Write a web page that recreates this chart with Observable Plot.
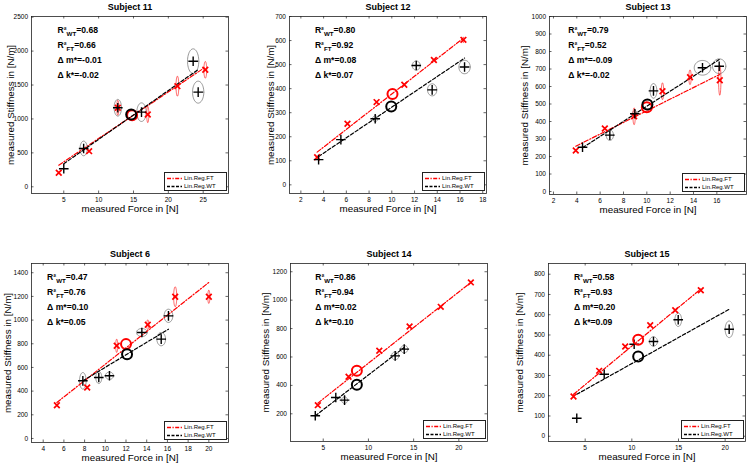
<!DOCTYPE html>
<html><head><meta charset="utf-8">
<script src="https://cdn.jsdelivr.net/npm/d3@7"></script>
<script src="https://cdn.jsdelivr.net/npm/@observablehq/plot@0.6"></script>
<style>
body{margin:0;background:#fff;}
#chart{position:relative;width:749px;height:465px;overflow:hidden;background:#fff;font-family:'Liberation Sans',Arial,Helvetica,sans-serif;}
.legend{position:absolute;box-sizing:border-box;border:0.8px solid #222;background:#fff;width:63px;height:19px;}
.legend .row{position:absolute;left:1.5px;height:7px;display:flex;align-items:center;font-size:6px;line-height:7px;white-space:nowrap;color:#000;}
.legend svg{display:block;margin-right:1.5px;}
</style></head><body><div id="chart"></div>
<script>
// ---- text ----
const titles = ["Subject 11", "Subject 12", "Subject 13", "Subject 6", "Subject 14", "Subject 15"];
const r2WT = ["0.68", "0.80", "0.79", "0.47", "0.86", "0.58"];
const r2FT = ["0.66", "0.92", "0.52", "0.76", "0.94", "0.93"];
const dM = ["-0.01", "0.08", "-0.09", "0.10", "0.02", "0.20"];
const dK = ["-0.02", "0.07", "-0.02", "0.05", "0.10", "0.09"];
const xLabel = "measured Force in [N]";
const yLabel = "measured Stiffness in [N/m]";
const legendLabels = ["Lin.Reg.FT", "Lin.Reg.WT"];

// ---- ticks ----
const xTicks = [
  [5, 10, 15, 20, 25],
  [2, 4, 6, 8, 10, 12, 14, 16, 18],
  [2, 4, 6, 8, 10, 12, 14, 16],
  [4, 6, 8, 10, 12, 14, 16, 18, 20],
  [5, 10, 15, 20],
  [5, 10, 15, 20]
];
const yTicks = [
  [0, 500, 1000, 1500, 2000, 2500],
  [0, 100, 200, 300, 400, 500, 600, 700],
  [0, 100, 200, 300, 400, 500, 600, 700, 800, 900, 1000],
  [0, 200, 400, 600, 800, 1000, 1200, 1400],
  [200, 400, 600, 800, 1000, 1200],
  [0, 100, 200, 300, 400, 500, 600, 700, 800]
];

// ---- data: [force, stiffness, sdForce, sdStiffness] ----
const wt11 = [[5.0,265,0,0],[7.85,565,0.52,108],[12.75,1165,0.53,123],[16.15,1100,0.67,137],[23.56,1851,0.81,182],[24.28,1395,0.81,162]];
const ft11 = [[4.28,206,0,0],[8.64,525,0,0],[12.75,1165,0.15,110],[17.05,1066,0.15,120],[21.3,1483,0.2,147],[25.3,1724,0.2,123]];
const wt12 = [[3.56,105,0,0],[5.52,188,0,0],[8.54,275,0.23,12],[12.15,496,0.35,19],[13.55,395,0.41,25],[16.4,490,0.5,28]];
const ft12 = [[3.43,115,0,0],[6.1,254,0,0],[8.66,344,0,0],[11.1,416,0,0],[13.7,519,0,0],[16.3,603,0.05,12]];
const wt13 = [[4.49,253,0,0],[6.83,322,0.31,30],[8.97,444,0.2,20],[10.57,575,0.29,42],[14.77,707,0.71,42],[16.2,716,0.57,42]];
const ft13 = [[3.91,234,0,0],[6.4,360,0,0],[8.91,430,0.1,48],[11.34,573,0.1,48],[13.7,653,0.1,42],[16.25,636,0.1,86]];
const wt6 = [[7.83,487,0.32,70],[9.37,515,0.29,51],[10.4,530,0.39,31],[13.53,895,0.52,34],[15.4,839,0.42,56],[16.1,1036,0.42,56]];
const ft6 = [[5.32,281,0,0],[8.25,431,0,0],[11.1,783,0.1,56],[14.1,960,0.1,42],[16.75,1197,0.15,84],[20.0,1197,0.1,56]];
const wt14 = [[4.12,186,0,0],[6.39,315,0,0],[7.36,296,0.33,23],[12.96,608,0.4,28],[13.96,655,0.4,26]];
const ft14 = [[4.4,261,0,0],[7.8,461,0,0],[11.2,644,0,0],[14.55,815,0,0],[18.0,953,0,0],[21.33,1125,0,0]];
const wt15 = [[4.1,89,0,0],[7.04,306,0,0],[10.25,454,0,0],[12.32,468,0.43,23],[14.97,575,0.36,33],[20.43,528,0.43,41]];
const ft15 = [[3.75,196,0,0],[6.5,323,0,0],[9.29,443,0,0],[11.97,548,0,0],[14.65,622,0,0],[17.39,721,0,0]];

// mean points [force, stiffness]
const meanWT = [[14.67,1066],[9.95,326],[10.05,497],[12.1,712],[8.72,404],[10.68,394]];
const meanFT = [[14.8,1055],[10.06,378],[10.0,482],[12.0,797],[8.72,503],[10.68,476]];

// regression line end points [[x0,y0],[x1,y1]]
const lineFT = [[[4.28,318],[25.3,1763]],[[3.43,136],[16.3,610]],[[3.91,259],[16.25,669]],[[5.32,304],[20,1318]],[[4.4,275],[21.33,1125]],[[3.75,207],[17.39,727]]];
const lineWT = [[[5.0,339],[24.3,1729]],[[3.56,118],[16.4,527]],[[4.49,250],[16.2,754]],[[7.83,487],[16.1,923]],[[4.12,186],[13.96,667]],[[4.1,207],[20.43,627]]];

const wtData = [wt11, wt12, wt13, wt6, wt14, wt15];
const ftData = [ft11, ft12, ft13, ft6, ft14, ft15];

// ---- layout (frame position in page px, axis domains) ----
const layout = [
  {L:31,  T:16,  W:197, H:177, xd:[0.37,28.63], yd:[-99,2510], ax:26,   yl:-21},
  {L:289, T:16,  W:197, H:177, xd:[1.0,18.33],  yd:[-36,700],  ax:25.4, yl:-19},
  {L:549, T:16,  W:197, H:178, xd:[1.66,18.54], yd:[-17,1000], ax:18.7, yl:-25},
  {L:31,  T:263, W:197, H:179, xd:[2.87,21.9],  yd:[-34,1478], ax:15.6, yl:-23.5},
  {L:290, T:263, W:197, H:178, xd:[1.38,23.17], yd:[5,1258],   ax:24.7, yl:-25},
  {L:548, T:263, W:197, H:178, xd:[1.07,22.18], yd:[-26,853],  ax:25.4, yl:-28.5}
];

const FONT = "'Liberation Sans', Arial, Helvetica, sans-serif";
const RED = "#ff0000";
const chart = document.getElementById("chart");

function ellipses(pts, tag) {
  const out = [];
  pts.forEach((p, i) => {
    if (!p[2] || !p[3]) return;
    for (let k = 0; k <= 48; k++) {
      const a = 2 * Math.PI * k / 48;
      out.push({id: tag + i, x: p[0] + p[2] * Math.cos(a), y: p[1] + p[3] * Math.sin(a)});
    }
  });
  return out;
}

layout.forEach((p, i) => {
  const ML = 31, MR = 3, MT = 16, MB = i < 3 ? 26 : 23;
  const annLines = [`R²|WT|=${r2WT[i]}`, `R²|FT|=${r2FT[i]}`, `Δ m*=${dM[i]}`, `Δ k*=${dK[i]}`];
  const tickLen = 2.5;
  const fmt = d => String(d);
  const marks = [
    Plot.frame({stroke: "#222", strokeWidth: 0.8}),
    Plot.axisX(xTicks[i], {anchor: "bottom", tickSize: 0, tickPadding: 3.5, fontSize: 6.5, label: null, tickFormat: fmt}),
    Plot.axisY(yTicks[i], {anchor: "left", tickSize: 0, tickPadding: 3.5, fontSize: 6.5, label: null, tickFormat: fmt}),
    Plot.tickX(xTicks[i], {x: d => d, insetTop: p.H - tickLen, stroke: "#222", strokeWidth: 0.7}),
    Plot.tickX(xTicks[i], {x: d => d, insetBottom: p.H - tickLen, stroke: "#222", strokeWidth: 0.7}),
    Plot.tickY(yTicks[i], {y: d => d, insetRight: p.W - tickLen, stroke: "#222", strokeWidth: 0.7}),
    Plot.tickY(yTicks[i], {y: d => d, insetLeft: p.W - tickLen, stroke: "#222", strokeWidth: 0.7}),
    Plot.line(ellipses(wtData[i], "w"), {x: "x", y: "y", z: "id", stroke: "#555", strokeWidth: 0.6}),
    Plot.line(ellipses(ftData[i], "f"), {x: "x", y: "y", z: "id", stroke: RED, strokeWidth: 0.6}),
    Plot.line(lineFT[i], {x: d => d[0], y: d => d[1], stroke: RED, strokeWidth: 1.2, strokeDasharray: "4.5,1.8,1.2,1.8"}),
    Plot.line(lineWT[i], {x: d => d[0], y: d => d[1], stroke: "#000", strokeWidth: 1.2, strokeDasharray: "3.5,2"}),
    Plot.dot(ftData[i], {x: d => d[0], y: d => d[1], symbol: "times", r: 2.7, stroke: RED, strokeWidth: 1.7}),
    Plot.dot(wtData[i], {x: d => d[0], y: d => d[1], symbol: "plus", r: 3.2, stroke: "#000", strokeWidth: 1.4}),
    Plot.dot([meanFT[i]], {x: d => d[0], y: d => d[1], r: 5, stroke: RED, strokeWidth: 2}),
    Plot.dot([meanWT[i]], {x: d => d[0], y: d => d[1], r: 5, stroke: "#000", strokeWidth: 2}),
    Plot.text([titles[i]], {frameAnchor: "top", dy: -9.3, text: d => d, textAnchor: "middle", lineAnchor: "middle", fontWeight: "bold", fontSize: 9, fill: "#000"}),
    Plot.text([xLabel], {frameAnchor: "bottom", dy: 15.5, text: d => d, textAnchor: "middle", lineAnchor: "middle", fontSize: 9.8, fill: "#000"}),
    Plot.text([yLabel], {frameAnchor: "left", dx: p.yl, rotate: -90, text: d => d, textAnchor: "middle", lineAnchor: "middle", fontSize: 9.8, fill: "#000"}),
    ...annLines.map((t, k) => Plot.text([t], {frameAnchor: "top-left", dx: p.ax, dy: 13.7 + 15 * k, text: d => d,
      textAnchor: "start", lineAnchor: "middle", fontWeight: "bold", fontSize: 8.6, fill: "#000"}))
  ];
  const svg = Plot.plot({
    width: ML + p.W + MR, height: MT + p.H + MB,
    marginLeft: ML, marginRight: MR, marginTop: MT, marginBottom: MB,
    x: {type: "linear", domain: p.xd},
    y: {type: "linear", domain: p.yd},
    style: {fontFamily: FONT, fontSize: "6.5px", overflow: "visible", background: "none", color: "#000"},
    marks
  });
  svg.style.position = "absolute";
  svg.style.left = (p.L - ML) + "px";
  svg.style.top = (p.T - MT) + "px";
  // subscripts
  const ns = "http://www.w3.org/2000/svg";
  svg.querySelectorAll("text").forEach(t => {
    const s = t.textContent;
    if (!s.includes("|")) return;
    const [a, b, c] = s.split("|");
    t.textContent = "";
    const t1 = document.createElementNS(ns, "tspan"); t1.textContent = a;
    const t2 = document.createElementNS(ns, "tspan"); t2.textContent = b;
    t2.setAttribute("dy", "2.6"); t2.setAttribute("font-size", "6.2");
    const t3 = document.createElementNS(ns, "tspan"); t3.textContent = c;
    t3.setAttribute("dy", "-2.6");
    t.append(t1, t2, t3);
  });
  chart.appendChild(svg);

  // legend box
  const lg = document.createElement("div");
  lg.className = "legend";
  lg.style.left = Math.round(p.L + p.W - 1.5 - 63) + "px";
  lg.style.top = Math.round(p.T + p.H - 2 - 19) + "px";
  const styles = [
    {stroke: RED, dash: "4,1.5,1.2,1.5"},
    {stroke: "#000", dash: "3,1.5"}
  ];
  legendLabels.forEach((lab, k) => {
    const row = document.createElement("div");
    row.className = "row";
    row.style.top = (2 + 8 * k) + "px";
    row.innerHTML = `<svg width="16" height="7"><line x1="0" y1="3.5" x2="15" y2="3.5" stroke="${styles[k].stroke}" stroke-width="1.4" stroke-dasharray="${styles[k].dash}"/></svg><span>${lab}</span>`;
    lg.appendChild(row);
  });
  chart.appendChild(lg);
});
</script></body></html>
